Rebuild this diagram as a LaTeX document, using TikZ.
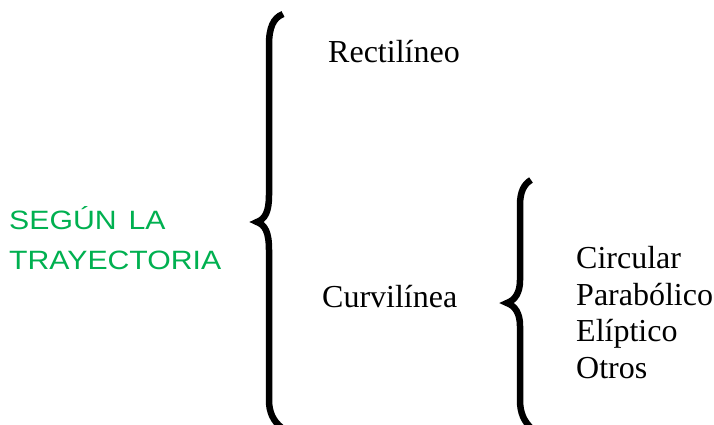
\documentclass[tikz,border=0pt]{standalone}
\usepackage{fontspec}
\setmainfont{Liberation Serif}
\newfontfamily\greenfont[FakeStretch=1.14]{Liberation Sans}
\definecolor{trayGreen}{RGB}{0,176,80}
\tikzset{
  bracepath/.style={line width=6.5pt, line cap=butt, line join=miter},
  itemtext/.style={inner sep=0pt, anchor=base west, font=\fontsize{32}{36}\selectfont},
  headtext/.style={inner sep=0pt, anchor=base west, text=trayGreen, font=\greenfont\fontsize{26.5}{28}\selectfont}
}
\begin{document}
\begin{tikzpicture}[x=1pt,y=-1pt]
\useasboundingbox (0,0) rectangle (714,425);
% heading
\node[headtext] (h1) at (9,229) {SEGÚN\hspace{12pt}LA};
\node[headtext] (h2) at (9,269) {TRAYECTORIA};
% big brace
\draw[bracepath] (283,14) .. controls (273,18) and (269,28) .. (269,45) -- (269,195)
  .. controls (269,212) and (265,219) .. (257,222)
  .. controls (265,225) and (269,232) .. (269,250) -- (269,400)
  .. controls (269,412) and (273,421) .. (282,428);
% first-level items
\node[itemtext] (rect) at (328,63) {Rectilíneo};
\node[itemtext] (curv) at (322,307) {Curvilínea};
% small brace
\draw[bracepath] (531,180) .. controls (524,184) and (520,192) .. (520,205) -- (520,280)
  .. controls (520,293) and (515,300) .. (507,303)
  .. controls (515,306) and (520,313) .. (520,326) -- (520,400)
  .. controls (520,413) and (524,421) .. (531,428);
% second-level items
\node[itemtext] (circ) at (576,268) {Circular};
\node[itemtext] (para) at (576,305) {Parabólico};
\node[itemtext] (elip) at (576,341.5) {Elíptico};
\node[itemtext] (otro) at (576,378) {Otros};
\end{tikzpicture}
\end{document}
